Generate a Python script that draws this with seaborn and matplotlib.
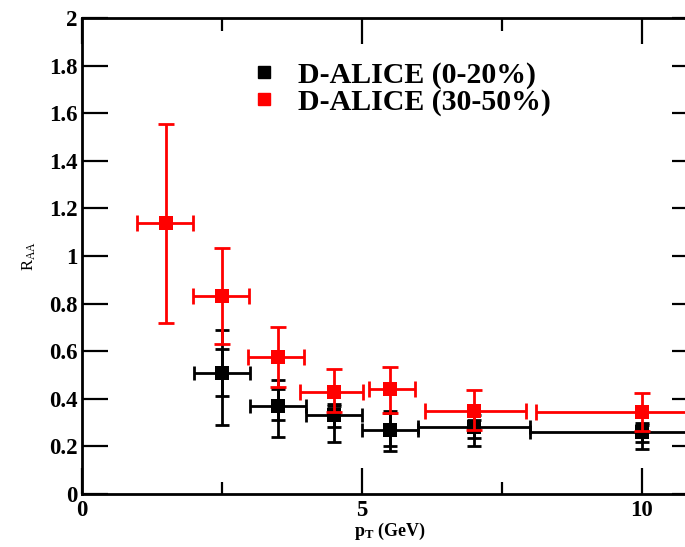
import matplotlib
matplotlib.use("Agg")
import matplotlib.pyplot as plt
import seaborn as sns
import numpy as np
import pandas as pd
from matplotlib.lines import Line2D
from matplotlib.ticker import FixedLocator

# ---- data ----
pt_red = [1.5, 2.5, 3.5, 4.5, 5.5, 7.0, 10.0]
raa_red = [1.14, 0.83, 0.575, 0.43, 0.44, 0.35, 0.345]
red_lo = [0.72, 0.63, 0.45, 0.345, 0.34, 0.27, 0.265]
red_hi = [1.555, 1.035, 0.70, 0.525, 0.535, 0.435, 0.425]
red_xlo = [0.99, 1.98, 2.97, 3.9, 5.13, 6.12, 8.1]
red_xhi = [1.98, 2.99, 3.96, 5.02, 5.95, 7.93, 12.0]

pt_blk = [2.5, 3.5, 4.5, 5.5, 7.0, 10.0]
raa_blk = [0.51, 0.37, 0.33, 0.27, 0.28, 0.26]
blk_stat_lo = [0.29, 0.24, 0.22, 0.18, 0.20, 0.19]
blk_stat_hi = [0.69, 0.48, 0.38, 0.35, 0.33, 0.30]
blk_sys_lo = [0.41, 0.31, 0.28, 0.20, 0.235, 0.22]
blk_sys_hi = [0.61, 0.44, 0.37, 0.34, 0.31, 0.29]
blk_xlo = [2.0, 3.0, 4.0, 5.0, 6.0, 8.0]
blk_xhi = [3.0, 4.0, 5.0, 6.0, 8.0, 12.0]

labels = ["D-ALICE (0-20%)", "D-ALICE (30-50%)"]
x_ticks = [0, 5, 10]
y_ticks = [0, 0.2, 0.4, 0.6, 0.8, 1, 1.2, 1.4, 1.6, 1.8, 2]
y_ticklabels = ["0", "0.2", "0.4", "0.6", "0.8", "1", "1.2", "1.4", "1.6", "1.8", "2"]

sns.set_theme(style="ticks")
plt.rcParams['font.family'] = ['Liberation Serif', 'DejaVu Serif']
plt.rcParams['mathtext.fontset'] = 'custom'
plt.rcParams['mathtext.rm'] = 'Liberation Serif'
plt.rcParams['mathtext.it'] = 'Liberation Serif:italic'
plt.rcParams['mathtext.bf'] = 'Liberation Serif:bold'
plt.rcParams['text.color'] = 'black'
plt.rcParams['axes.labelcolor'] = 'black'
plt.rcParams['xtick.color'] = 'black'
plt.rcParams['ytick.color'] = 'black'

fig = plt.figure(figsize=(6.85, 5.47), dpi=100)
W, H = 685, 547
left_px, right_px, bot_px, top_px = 82, 698, 494, 18
ax = fig.add_axes([left_px / W, 1 - bot_px / H, (right_px - left_px) / W, (bot_px - top_px) / H])

df_red = pd.DataFrame({"pt": pt_red, "raa": raa_red})
df_blk = pd.DataFrame({"pt": pt_blk, "raa": raa_blk})

b_raa = np.array(raa_blk)
b_pt = np.array(pt_blk)
ax.errorbar(b_pt, b_raa,
            yerr=[b_raa - np.array(blk_stat_lo), np.array(blk_stat_hi) - b_raa],
            xerr=[b_pt - np.array(blk_xlo), np.array(blk_xhi) - b_pt],
            fmt='none', ecolor='black', elinewidth=2, capsize=5, capthick=2, zorder=2)
ax.errorbar(b_pt, b_raa,
            yerr=[b_raa - np.array(blk_sys_lo), np.array(blk_sys_hi) - b_raa],
            fmt='none', ecolor='black', elinewidth=2, capsize=5, capthick=2, zorder=2)
sns.scatterplot(data=df_blk, x="pt", y="raa", marker='s', s=88, color='black',
                edgecolor='black', linewidth=0, ax=ax, zorder=3, legend=False)

r_raa = np.array(raa_red)
r_pt = np.array(pt_red)
ax.errorbar(r_pt, r_raa,
            yerr=[r_raa - np.array(red_lo), np.array(red_hi) - r_raa],
            xerr=[r_pt - np.array(red_xlo), np.array(red_xhi) - r_pt],
            fmt='none', ecolor='#ff0000', elinewidth=2, capsize=6, capthick=2, zorder=4)
sns.scatterplot(data=df_red, x="pt", y="raa", marker='s', s=88, color='#ff0000',
                edgecolor='#ff0000', linewidth=0, ax=ax, zorder=5, legend=False)

ax.set_xlim(0, 11)
ax.set_ylim(0, 2)
ax.xaxis.set_minor_locator(FixedLocator([2.5, 7.5]))
ax.set_xticks(x_ticks)
ax.set_xticklabels([str(t) for t in x_ticks])
ax.set_yticks(y_ticks)
ax.set_yticklabels(y_ticklabels)

ax.tick_params(axis='both', which='major', direction='in', length=19, width=1.6,
               top=True, right=True, labelsize=16.5, pad=4, color='black', labelcolor='black')
ax.tick_params(axis='y', which='major', pad=3)
ax.tick_params(axis='both', which='minor', direction='in', length=9, width=1.6,
               top=True, right=True, color='black')
for lab in ax.get_xticklabels() + ax.get_yticklabels():
    lab.set_fontweight('bold')
for sp in ax.spines.values():
    sp.set_linewidth(2)
    sp.set_color('black')

ax.set_xlabel(r'$\mathbf{p_T}$ (GeV)', fontsize=13, fontweight='bold', labelpad=0, color='black')
ax.set_ylabel(r'R$_{\rm AA}$', fontsize=12, labelpad=8, color='black')

handles = [Line2D([0], [0], marker='s', linestyle='none', color='black', markersize=8.5),
           Line2D([0], [0], marker='s', linestyle='none', color='#ff0000', markersize=8.5)]
leg = ax.legend(handles, labels, loc='upper left', bbox_to_anchor=(0.254, 0.94),
                frameon=False, prop={'family': 'Liberation Serif', 'weight': 'bold', 'size': 21.5},
                handlelength=0.7, handletextpad=0.8, labelspacing=0.0, borderpad=0,
                labelcolor='black')

fig.savefig("out.png", dpi=100)
